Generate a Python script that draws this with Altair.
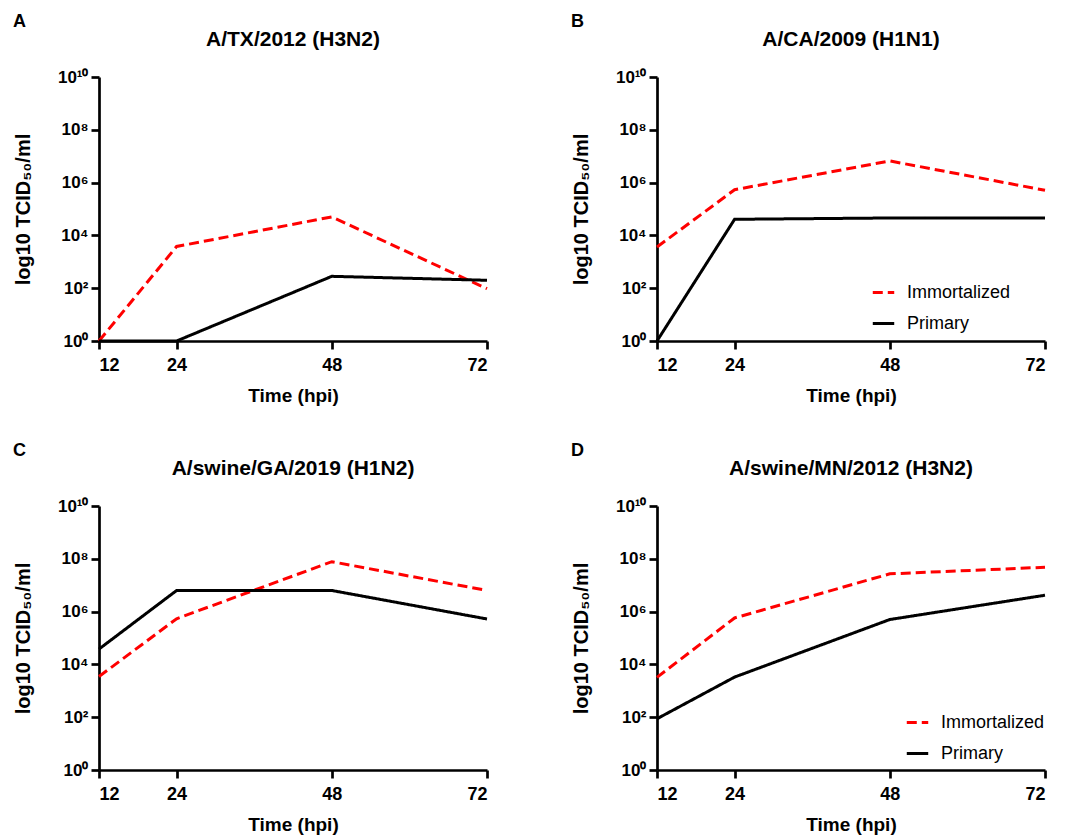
import altair as alt
import pandas as pd

hours = [12, 24, 48, 72]
series = ["Immortalized", "Primary"]
panel_letters = ["A", "B", "C", "D"]
panel_titles = ["A/TX/2012 (H3N2)", "A/CA/2009 (H1N1)",
                "A/swine/GA/2019 (H1N2)", "A/swine/MN/2012 (H3N2)"]

# log10 TCID50/ml
tx_immortalized = [0.0, 3.58, 4.70, 1.98]
tx_primary = [0.0, 0.0, 2.45, 2.30]
ca_immortalized = [3.56, 5.73, 6.82, 5.71]
ca_primary = [0.0, 4.61, 4.66, 4.66]
ga_immortalized = [3.54, 5.73, 7.89, 6.80]
ga_primary = [4.58, 6.80, 6.80, 5.72]
mn_immortalized = [3.51, 5.76, 7.43, 7.68]
mn_primary = [1.94, 3.52, 5.70, 6.62]

x_ticks = [12, 24, 48, 72]
y_ticks = [0, 2, 4, 6, 8, 10]

FONT = "Liberation Sans"
W, H = 388, 264

y_label_expr = ("'10' + (datum.value == 10 ? '¹⁰' : datum.value == 8 ? '⁸' : "
                "datum.value == 6 ? '⁶' : datum.value == 4 ? '⁴' : "
                "datum.value == 2 ? '²' : '⁰')")


def panel(i, imm, pri, legend_pos=None):
    df = pd.DataFrame({
        "hour": hours * 2,
        "titer": imm + pri,
        "cells": [series[0]] * len(hours) + [series[1]] * len(hours),
    })
    if legend_pos is not None:
        leg = alt.Legend(orient="none", legendX=legend_pos[0], legendY=legend_pos[1],
                         title=None, symbolType="stroke", symbolSize=460,
                         symbolStrokeWidth=3, labelFontSize=18, labelFont=FONT,
                         labelFontWeight="normal", labelColor="black",
                         labelOffset=11, rowPadding=9)
    else:
        leg = None
    lines = alt.Chart(df).mark_line(strokeWidth=3, clip=False).encode(
        x=alt.X("hour:Q",
                scale=alt.Scale(domain=[12, 72], nice=False, zero=False),
                axis=alt.Axis(values=x_ticks, title="Time (hpi)", titlePadding=12,
                              labelPadding=7, labelFontSize=18, titleFontSize=19)),
        y=alt.Y("titer:Q",
                scale=alt.Scale(domain=[0, 10], nice=False, zero=False),
                axis=alt.Axis(values=y_ticks, labelExpr=y_label_expr,
                              title="log10 TCID₅₀/ml", titlePadding=24,
                              labelPadding=3, labelFontSize=17, titleFontSize=20)),
        color=alt.Color("cells:N",
                        scale=alt.Scale(domain=series, range=["#ff0000", "#000000"]),
                        legend=leg),
        strokeDash=alt.StrokeDash("cells:N",
                                  scale=alt.Scale(domain=series, range=[[10, 5], [1, 0]]),
                                  legend=leg),
    )
    letter = alt.Chart(pd.DataFrame({"letter": [panel_letters[i]]})).mark_text(
        align="left", baseline="alphabetic", fontSize=18, fontWeight="bold",
        font=FONT, color="black"
    ).encode(x=alt.value(-86), y=alt.value(-50), text="letter:N")
    title = alt.Chart(pd.DataFrame({"title": [panel_titles[i]]})).mark_text(
        align="center", baseline="alphabetic", fontSize=21, fontWeight="bold",
        font=FONT, color="black"
    ).encode(x=alt.value(W / 2), y=alt.value(-31), text="title:N")
    return alt.layer(lines, letter, title).properties(width=W, height=H)


chart = alt.concat(
    panel(0, tx_immortalized, tx_primary),
    panel(1, ca_immortalized, ca_primary, legend_pos=(214, 203)),
    panel(2, ga_immortalized, ga_primary),
    panel(3, mn_immortalized, mn_primary, legend_pos=(248, 204)),
    columns=2, spacing=alt.RowColnumber(row=165, column=170), bounds="flush",
).resolve_scale(
    color="independent", strokeDash="independent"
).configure_view(stroke=None).configure_axis(
    grid=False, domainColor="black", domainWidth=2.7, tickColor="black",
    tickWidth=2.7, tickSize=8, labelFont=FONT,
    labelFontWeight="bold", labelColor="black", titleFont=FONT,
    titleFontWeight="bold", titleColor="black",
).properties(background="white")

chart.save("out.html", embed_options={"renderer": "svg", "actions": False})
